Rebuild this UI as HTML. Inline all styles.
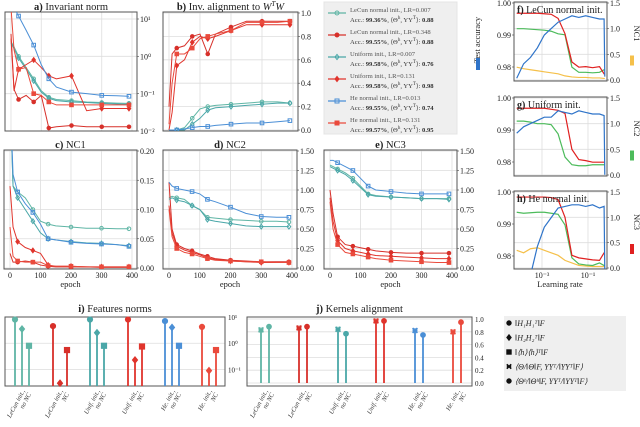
<!DOCTYPE html>
<html><head><meta charset="utf-8"><style>
html,body{margin:0;padding:0;background:#fff;overflow:hidden}
svg{display:block;font-family:"Liberation Serif",serif}
</style></head><body>
<svg id="fig" width="640" height="427" viewBox="0 0 640 427" xmlns="http://www.w3.org/2000/svg"></svg>
<script>
// ---------- data ----------
const epochs=[0,10,25,50,75,100,125,150,200,250,300,350,390];
const seriesNames=["lecun-small","lecun-large","uniform-small","uniform-large","he-small","he-large"];
const seriesColors=["#5fb5a5","#d7302a","#4aa7a8","#e0342c","#4b8fd6","#ea4a3c"];
const seriesMarkers=["circle","circle","diamond","diamond","square","square"];
const aVals=[[2.5,1.8,1.0,0.5,0.25,0.12,0.08,0.07,0.065,0.06,0.058,0.056,0.055],
[4,0.13,0.07,0.09,0.06,0.09,0.012,0.013,0.014,0.013,0.013,0.013,0.013],
[2.3,1.6,0.9,0.45,0.22,0.11,0.075,0.065,0.06,0.058,0.055,0.053,0.052],
[3,0.12,0.45,0.6,0.8,0.5,0.3,0.25,0.3,0.035,0.04,0.04,0.04],
[30,20,12,5,2,0.6,0.25,0.15,0.11,0.1,0.09,0.088,0.085],
[20,1.5,0.45,0.5,0.1,0.09,0.06,0.05,0.05,0.05,0.05,0.05,0.05]];
const bVals=[[0,0,0,0.02,0.1,0.18,0.2,0.21,0.22,0.23,0.24,0.24,0.23],
[0.2,0.65,0.7,0.72,0.8,0.82,0.65,0.82,0.88,0.93,0.93,0.93,0.93],
[0,0,0,0,0.05,0.1,0.17,0.19,0.2,0.21,0.22,0.23,0.23],
[0,0.15,0.55,0.6,0.75,0.8,0.78,0.8,0.85,0.9,0.9,0.9,0.9],
[0,0,0,0.01,0.02,0.03,0.03,0.04,0.05,0.06,0.06,0.07,0.08],
[0.05,0.4,0.65,0.65,0.7,0.78,0.8,0.82,0.85,0.92,0.92,0.92,0.93]];
const cVals=[[0.3,0.14,0.13,0.12,0.1,0.08,0.075,0.072,0.07,0.068,0.068,0.067,0.067],
[0.025,0.01,0.01,0.012,0.01,0.005,0.003,0.002,0.002,0.002,0.001,0.001,0.001],
[0.3,0.14,0.12,0.1,0.08,0.06,0.05,0.048,0.045,0.043,0.042,0.04,0.038],
[0.14,0.07,0.045,0.035,0.03,0.025,0.005,0.003,0.003,0.002,0.002,0.002,0.002],
[0.3,0.16,0.13,0.11,0.095,0.075,0.05,0.048,0.044,0.042,0.041,0.04,0.037],
[0.07,0.02,0.012,0.01,0.01,0.01,0.004,0.003,0.003,0.002,0.002,0.002,0.002]];
const dVals=[[0.9,0.92,0.9,0.88,0.8,0.75,0.65,0.64,0.62,0.61,0.6,0.6,0.59],
[1.1,0.5,0.3,0.25,0.22,0.18,0.15,0.12,0.1,0.09,0.08,0.08,0.08],
[0.88,0.9,0.87,0.85,0.8,0.75,0.62,0.6,0.57,0.54,0.53,0.53,0.53],
[0.8,0.45,0.28,0.23,0.2,0.17,0.13,0.11,0.09,0.08,0.07,0.07,0.07],
[1.1,1.05,1.02,1.0,0.98,0.95,0.88,0.85,0.78,0.7,0.66,0.65,0.65],
[0.75,0.4,0.25,0.2,0.18,0.15,0.12,0.1,0.09,0.08,0.08,0.07,0.07]];
const eVals=[[1.32,1.3,1.27,1.22,1.15,1.05,0.95,0.93,0.91,0.9,0.89,0.89,0.89],
[1.0,0.7,0.4,0.3,0.28,0.26,0.24,0.22,0.2,0.19,0.19,0.19,0.19],
[1.3,1.28,1.25,1.2,1.12,1.03,0.94,0.92,0.91,0.9,0.89,0.89,0.88],
[0.9,0.6,0.35,0.25,0.22,0.2,0.18,0.16,0.15,0.14,0.13,0.12,0.12],
[1.38,1.38,1.35,1.3,1.25,1.15,1.05,1.0,0.98,0.96,0.95,0.95,0.95],
[0.85,0.5,0.3,0.2,0.18,0.16,0.14,0.12,0.1,0.09,0.08,0.07,0.07]];
const lrLog=[-4.1,-3.8,-3.5,-3.2,-2.9,-2.6,-2.3,-2.0,-1.7,-1.4,-1.1,-0.8,-0.5,-0.3,-0.27];
const fAcc=[0.9765,0.981,0.983,0.986,0.99,0.992,0.994,0.995,0.996,0.9955,0.996,0.9955,0.995,0.995,0.977];
const fNC=[1.3,1.3,1.3,1.3,1.29,1.28,1.2,0.9,0.35,0.25,0.26,0.24,0.26,0.12,0.12];
const fNCg=[1.0,1.0,0.99,0.98,0.97,0.95,0.9,0.88,0.25,0.15,0.15,0.14,0.15,0.2,0.2];
const fNCy=[0.25,0.22,0.2,0.18,0.16,0.14,0.12,0.08,0.06,0.05,0.05,0.04,0.04,0.03,0.03];
const gAcc=[0.989,0.991,0.992,0.993,0.994,0.994,0.996,0.9955,0.995,0.996,0.9955,0.995,0.995,0.9945,0.976];
const gNC=[1.3,1.3,1.3,1.3,1.3,1.28,1.26,1.2,0.5,0.3,0.28,0.25,0.25,0.25,0.25];
const gNCg=[1.05,1.05,1.03,1.0,1.0,0.98,0.8,0.35,0.2,0.18,0.18,0.2,0.2,0.2,0.2];
const hAcc=[0.96,0.965,0.974,0.983,0.989,0.992,0.995,0.9955,0.996,0.996,0.9955,0.996,0.995,0.9955,0.975];
const hNC=[1.4,1.4,1.4,1.4,1.4,1.39,1.35,1.0,0.25,0.2,0.18,0.16,0.15,0.3,0.3];
const hNCg=[1.1,1.08,1.09,1.1,1.1,1.08,1.06,0.85,0.2,0.08,0.06,0.05,0.1,0.05,0.05];
const hNCy=[0.35,0.3,0.38,0.4,0.35,0.3,0.25,0.15,0.1,0.05,0.04,0.03,0.03,0.03,0.03];
const groupLabels=[["LeCun init.,","no NC"],["LeCun init.,","NC"],["Unif. init.,","no NC"],["Unif. init.,","NC"],["He. init.,","no NC"],["He. init.,","NC"]];
const groupColors=["#5fb5a5","#d7302a","#4aa7a8","#e0342c","#4b8fd6","#ea4a3c"];
const normCircle=[8,4.5,8,8,7,4.2];
const normDiamond=[3.5,0.03,2.5,0.23,4,0.09];
const normSquare=[0.8,0.55,0.8,0.75,0.8,0.55];
const alignTheta=[0.83,0.86,0.84,0.97,0.82,0.80];
const alignThetaH=[0.88,0.88,0.77,0.97,0.75,0.95];

// ---------- helpers ----------
const NS="http://www.w3.org/2000/svg";
const svg=document.getElementById('fig');
function mk(tag,attrs,parent){const e=document.createElementNS(NS,tag);for(const k in attrs)e.setAttribute(k,attrs[k]);(parent||svg).appendChild(e);return e;}
function txt(x,y,s,size,anchor,parent,extra){const t=mk('text',Object.assign({x:x,y:y,'font-size':size,'text-anchor':anchor||'start',fill:'#222'},extra||{}),parent);t.textContent=s;return t;}
function marker(g,type,x,y,color,r,filled){
  r=r||2.3;const f=filled?color:'none';let m;
  if(type==='circle')m=mk('circle',{cx:x,cy:y,r:r,fill:f,stroke:color,'stroke-width':1},g);
  else if(type==='diamond')m=mk('polygon',{points:`${x},${y-r-0.6} ${x+r},${y} ${x},${y+r+0.6} ${x-r},${y}`,fill:f,stroke:color,'stroke-width':1},g);
  else if(type==='square')m=mk('rect',{x:x-r,y:y-r,width:2*r,height:2*r,fill:f,stroke:color,'stroke-width':1},g);
  else if(type==='cross'){m=mk('path',{d:`M${x-r},${y-r}L${x+r},${y+r}M${x+r},${y-r}L${x-r},${y+r}M${x-r},${y}L${x+r},${y}`,stroke:color,'stroke-width':1.6,fill:'none'},g);}
  return m;
}
let clipId=0;
function makePanel(name,box,xs,ys,ticksY,tickFmt,gridX){
  const g=mk('g',{});
  
  
  const [x0,y0,x1,y1]=box;
  gridX.forEach(v=>{const px=xs(v);mk('line',{x1:px,x2:px,y1:y0,y2:y1,stroke:'#ddd','stroke-width':0.8},g);});
  ticksY.forEach((v,i)=>{const py=ys(v);mk('line',{x1:x0,x2:x1,y1:py,y2:py,stroke:'#ddd','stroke-width':0.8},g);
    mk('line',{x1:x1,x2:x1+2,y1:py,y2:py,stroke:'#444','stroke-width':0.6},g);
    txt(x1+3,py+3,tickFmt[i],8,'start',g);});
  mk('rect',{x:x0,y:y0,width:x1-x0,height:y1-y0,fill:'none',stroke:'#555','stroke-width':1},g);
  const id='cp'+(clipId++);
  const cp=mk('clipPath',{id:id},g);mk('rect',{x:x0,y:y0,width:x1-x0,height:y1-y0},cp);
  const inner=mk('g',{'clip-path':`url(#${id})`},g);
  return {g,inner};
}
function epochPanel(name,box,vals,ymin,ymax,ticksY,tickFmt,isLog,title,showX){
  const [x0,y0,x1,y1]=box;
  const ex0=x0+6, ex1=x1-5;
  const xs=v=>ex0+(v/400)*(ex1-ex0);
  const top=y0+1,bot=isLog?y1:y1-1;
  const ys=isLog?(v=>bot-(Math.log10(v)-ymin)/(ymax-ymin)*(bot-(y0+7))):(v=>bot-(v-ymin)/(ymax-ymin)*(bot-top));
  const p=makePanel(name,box,xs,ys,ticksY,tickFmt,[0,100,200,300,400]);
  vals.forEach((s,si)=>{
    const pts=s.map((v,i)=>[xs(epochs[i]),ys(isLog?Math.max(v,1e-3):v)]);
    const pl=mk('polyline',{points:pts.map(q=>q.join(',')).join(' '),fill:'none',stroke:seriesColors[si],'stroke-width':1},p.inner);
    
    
    pts.forEach((q,i)=>{if(i>0&&i%2===0)marker(p.inner,seriesMarkers[si],q[0],q[1],seriesColors[si],1.8,si%2===1);});
  });
  if(showX){[0,100,200,300,400].forEach(v=>txt(xs(v),y1+9,String(v),8,'middle',p.g));
    txt((x0+x1)/2,y1+18,'epoch',8.5,'middle',p.g);}
  const t=txt((x0+x1)/2,y0-2,'',10.5,'middle',p.g);
  const b=mk('tspan',{'font-weight':'bold'},t);b.textContent=title[0];
  const r=mk('tspan',{},t);r.textContent=title[1];
  return {p,t};
}
// ---------- top row ----------
epochPanel('panel-a-invariant-norm',[5,12,137,131],aVals,-2,1,[10,1,0.1,0.01],['10¹','10⁰','10⁻¹','10⁻²'],true,['a)',' Invariant norm'],false);
const pb=epochPanel('panel-b-inv-alignment',[163,12,298,131],bVals,0,1,[0,0.2,0.4,0.6,0.8,1.0],['0.0','0.2','0.4','0.6','0.8','1.0'],false,['b)',' Inv. alignment to '],false);
(function(){const t=pb.t;const w=mk('tspan',{'font-style':'italic'},t);w.textContent='W';const s=mk('tspan',{'font-style':'italic','font-size':7,dy:-4},t);s.textContent='T';const w2=mk('tspan',{'font-style':'italic',dy:4},t);w2.textContent='W';})();
epochPanel('panel-c-nc1',[4,150,137,269],cVals,0,0.2,[0,0.05,0.1,0.15,0.2],['0.00','0.05','0.10','0.15','0.20'],false,['c)',' NC1'],true);
epochPanel('panel-d-nc2',[163,150,297,269],dVals,0,1.5,[0,0.25,0.5,0.75,1,1.25,1.5],['0.00','0.25','0.50','0.75','1.00','1.25','1.50'],false,['d)',' NC2'],true);
epochPanel('panel-e-nc3',[324,150,457,269],eVals,0,1.5,[0,0.25,0.5,0.75,1,1.25,1.5],['0.00','0.25','0.50','0.75','1.00','1.25','1.50'],false,['e)',' NC3'],true);

// ---------- legend ----------
(function(){
  const g=mk('g',{});
  
  
  mk('rect',{x:324,y:2,width:133,height:132,fill:'#efefef',stroke:'#e4e4e4'},g);
  const names=['LeCun normal init., LR=0.007','LeCun normal init., LR=0.348','Uniform init., LR=0.007','Uniform init., LR=0.131','He normal init., LR=0.013','He normal init., LR=0.131'];
  const acc=['99.36','99.55','99.58','99.58','99.55','99.57'];
  const al=['0.88','0.88','0.76','0.98','0.74','0.95'];
  names.forEach((n,i)=>{
    const y=10+i*22;
    const e=mk('g',{},g);
    
    
    mk('line',{x1:328,x2:346,y1:y+3,y2:y+3,stroke:seriesColors[i],'stroke-width':1.2},e);
    marker(e,seriesMarkers[i],337,y+3,seriesColors[i],2,i%2===1);
    txt(350,y+2,n,6.6,'start',e,{fill:'#555'});
    const t=txt(350,y+12,'Acc.: ',6.6,'start',e,{fill:'#333'});
    const b=mk('tspan',{'font-weight':'bold'},t);b.textContent=acc[i]+'%';
    const r=mk('tspan',{},t);r.textContent=', ⟨Θ';
    const s=mk('tspan',{'font-size':5,dy:-3},t);s.textContent='h';
    const r2=mk('tspan',{dy:3},t);r2.textContent=', YY';
    const s2=mk('tspan',{'font-size':5,dy:-3},t);s2.textContent='T';
    const r3=mk('tspan',{dy:3},t);r3.textContent='⟩: ';
    const b2=mk('tspan',{'font-weight':'bold'},t);b2.textContent=al[i];
  });
})();

// ---------- right column ----------
function lrPanel(name,box,acc,ncLines,title,nclabel,showX){
  const [x0,y0,x1,y1]=box;
  const xs=v=>542+(v+3)*23;
  const ya=v=>y0+1+(1-v)/0.01*32;
  const yn=v=>y1-1-(v/1.5)*(y1-y0-2);
  const p=makePanel(name,box,xs,yn,[0,0.5,1,1.5],['0.0','0.5','1.0','1.5'],[-3,-1]);
  [1,0.99,0.98].forEach((v,i)=>{mk('line',{x1:x0-2,x2:x0,y1:ya(v),y2:ya(v),stroke:'#444','stroke-width':0.6},p.g);txt(x0-3,ya(v)+3,['1.00','0.99','0.98'][i],8,'end',p.g);});
  ncLines.forEach(l=>{
    const pl=mk('polyline',{points:l.v.map((v,i)=>xs(lrLog[i])+','+yn(v)).join(' '),fill:'none',stroke:l.c,'stroke-width':1.2},p.inner);
    
    
  });
  const pa=mk('polyline',{points:acc.map((v,i)=>xs(lrLog[i])+','+ya(v)).join(' '),fill:'none',stroke:'#2f74c9','stroke-width':1.2},p.inner);
  
  
  const t=txt(x0+3,y0+11,'',10,'start',p.g);
  const b=mk('tspan',{'font-weight':'bold'},t);b.textContent=title[0];const r=mk('tspan',{},t);r.textContent=title[1];
  const ny=(y0+y1)/2;
  txt(634,ny-8,nclabel,8.5,'middle',p.g,{transform:`rotate(90 634 ${ny-8})`});
  mk('rect',{x:630,y:ny+14,width:4,height:10,fill:nclabel==='NC1'?'#f5c04a':(nclabel==='NC2'?'#4cbb5b':'#e02020')},p.g);
  if(showX){[[-3,'10⁻³'],[-1,'10⁻¹']].forEach(q=>txt(xs(q[0]),y1+9,q[1],8,'middle',p.g));txt(560,y1+18,'Learning rate',8.5,'middle',p.g);}
}
lrPanel('panel-f-lecun',[514,2,607,81],fAcc,[{n:'nc1-line',c:'#f5c04a',v:fNCy},{n:'nc2-line',c:'#4cbb5b',v:fNCg},{n:'nc3-line',c:'#e02020',v:fNC}],['f)',' LeCun normal init.'],'NC1',false);
lrPanel('panel-g-uniform',[514,97,607,176],gAcc,[{n:'nc2-line',c:'#4cbb5b',v:gNCg},{n:'nc3-line',c:'#e02020',v:gNC}],['g)',' Uniform init.'],'NC2',false);
lrPanel('panel-h-he',[514,191,607,269],hAcc,[{n:'nc1-line',c:'#f5c04a',v:hNCy},{n:'nc2-line',c:'#4cbb5b',v:hNCg},{n:'nc3-line',c:'#e02020',v:hNC}],['h)',' He normal init.'],'NC3',true);
txt(480,40,'Test accuracy',8.5,'middle',svg,{transform:'rotate(-90 480 40)'});
mk('rect',{x:476,y:58,width:4,height:12,fill:'#2f74c9'});

// ---------- bottom row ----------
const BT=317, BB=386;
function stemPanel(name,box,title,ys,ticks,tickFmt){
  const [x0,y0,x1,y1]=box;
  const g=mk('g',{});
  
  
  ticks.forEach((v,i)=>{const py=ys(v);mk('line',{x1:x0,x2:x1,y1:py,y2:py,stroke:'#ddd','stroke-width':0.8},g);txt(x1+3,py+3,tickFmt[i],7,'start',g);});
  mk('rect',{x:x0,y:y0,width:x1-x0,height:y1-y0,fill:'none',stroke:'#555','stroke-width':1},g);
  const t=txt((x0+x1)/2,y0-5,'',10.5,'middle',g);
  const b=mk('tspan',{'font-weight':'bold'},t);b.textContent=title[0];const r=mk('tspan',{},t);r.textContent=title[1];
  return g;
}
function groupLabel(g,cx,gi){
  const lab=mk('text',{'font-size':6.5,'font-style':'italic','text-anchor':'end',fill:'#333',transform:`translate(${cx+3},${BB+5}) rotate(-62)`},g);
  groupLabels[gi].forEach((s,k)=>{const ts=mk('tspan',{x:0,dy:k?7:0},lab);ts.textContent=s;});
}
(function(){
  const lo=-1.63,hi=1.0;
  const ys=v=>BB-(Math.log10(v)-lo)/(hi-lo)*(BB-BT);
  const g=stemPanel('panel-i-features-norms',[5,BT,225,BB],['i)',' Features norms'],ys,[10,1,0.1],['10¹','10⁰','10⁻¹']);
  const gx=[22,60,97,135,172,209];
  const sets=[[normCircle,'circle',-7],[normDiamond,'diamond',0],[normSquare,'square',7]];
  gx.forEach((cx,gi)=>{sets.forEach(s=>{const x=cx+s[2],y=ys(s[0][gi]);
    const l=mk('line',{x1:x,x2:x,y1:BB,y2:y,stroke:groupColors[gi],'stroke-width':1.8},g);
    
    
    marker(g,s[1],x,y,groupColors[gi],2.6,true);});
    groupLabel(g,cx,gi);
  });
})();
(function(){
  const ys=v=>383-v*64;
  const g=stemPanel('panel-j-kernels-alignment',[247,BT,472,BB],['j)',' Kernels alignment'],ys,[0,0.2,0.4,0.6,0.8,1.0],['0.0','0.2','0.4','0.6','0.8','1.0']);
  const gx=[265,303,342,380,419,457];
  gx.forEach((cx,gi)=>{[[alignTheta,'cross',-4],[alignThetaH,'circle',4]].forEach(s=>{const x=cx+s[2],y=ys(s[0][gi]);
    const l=mk('line',{x1:x,x2:x,y1:383,y2:y,stroke:groupColors[gi],'stroke-width':1.8},g);
    
    
    if(s[1]==='cross'){mk('rect',{x:x-2.5,y:y-2.5,width:5,height:5,fill:groupColors[gi],opacity:0.6},g);}
    marker(g,s[1],x,y,groupColors[gi],2.4,true);});
    groupLabel(g,cx,gi);
  });
})();
(function(){
  const g=mk('g',{});
  
  
  mk('rect',{x:504,y:316,width:122,height:75,fill:'#efefef'},g);
  const items=[['circle','‖H₁H₁ᵀ‖F'],['diamond','‖H₂H₂ᵀ‖F'],['square','‖⟨h⟩⟨h⟩ᵀ‖F'],['cross','⟨Θ/‖Θ‖F, YYᵀ/‖YYᵀ‖F⟩'],['circle','⟨Θʰ/‖Θʰ‖F, YYᵀ/‖YYᵀ‖F⟩']];
  items.forEach((it,i)=>{const y=323+i*14.5;marker(g,it[0],509,y,'#111',2.2,true);
    txt(515,y+3,it[1],8,'start',g,{'font-style':'italic'});});
})();
</script>
</body></html>
